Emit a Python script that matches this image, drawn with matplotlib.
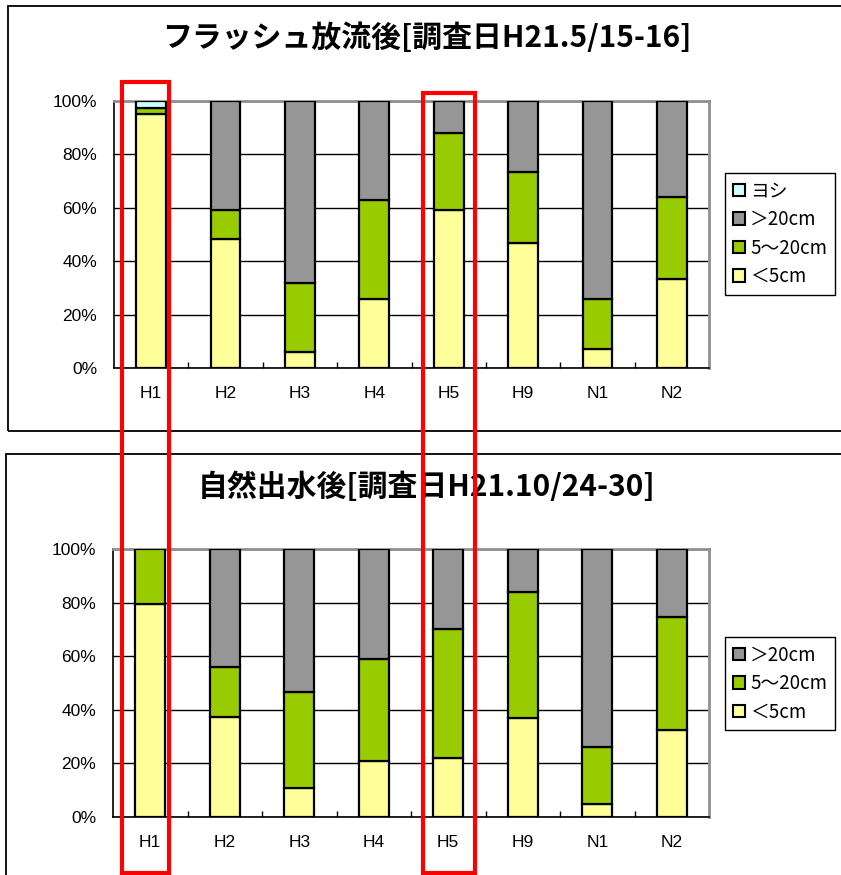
import matplotlib
matplotlib.use("Agg")
import matplotlib.pyplot as plt
import matplotlib.transforms as mtransforms
from matplotlib.patches import Rectangle, Patch
import numpy as np

plt.rcParams['font.family'] = ['Noto Sans CJK JP', 'DejaVu Sans']

# Data
sites = ['H1', 'H2', 'H3', 'H4', 'H5', 'H9', 'N1', 'N2']

flush_lt5 = [95, 48.5, 6, 26, 59, 47, 7, 33.5]
flush_5_20 = [2.5, 10.5, 26, 37, 29, 26.5, 19, 30.5]
flush_gt20 = [0, 41, 68, 37, 12, 26.5, 74, 36]
flush_yoshi = [2.5, 0, 0, 0, 0, 0, 0, 0]

natural_lt5 = [79.5, 37.5, 11, 21, 22, 37, 5, 32.5]
natural_5_20 = [20.5, 18.5, 35.5, 38, 48, 47, 21, 42]
natural_gt20 = [0, 44, 53.5, 41, 30, 16, 74, 25.5]

title_top = 'フラッシュ放流後[調査日H21.5/15-16]'
title_bottom = '自然出水後[調査日H21.10/24-30]'

highlight_sites = ['H1', 'H5']

# Colours
c_lt5 = '#FFFF99'
c_5_20 = '#99CC00'
c_gt20 = '#969696'
c_yoshi = '#CCFFFF'

W, H = 841, 875
fig = plt.figure(figsize=(W / 100, H / 100), dpi=100)
tick_font = ['Liberation Sans', 'DejaVu Sans']


def px_axes(left, right, top, bottom):
    return fig.add_axes([left / W, 1 - bottom / H, (right - left) / W, (bottom - top) / H])


def draw_stack(ax, layers):
    ind = np.arange(len(sites))
    bottom = np.zeros(len(sites))
    for vals, color in layers:
        vals = np.array(vals, dtype=float)
        mask = vals > 0
        ax.bar(ind[mask], vals[mask], 0.40, bottom=bottom[mask], color=color,
               edgecolor='black', linewidth=1.6, zorder=3)
        bottom += vals
    ax.set_xlim(-0.5, len(sites) - 0.5)
    ax.set_ylim(0, 100)
    ax.set_yticks(np.arange(0, 101, 20))
    ax.set_yticklabels([f'{v}%' for v in range(0, 101, 20)], family=tick_font, fontsize=12.5)
    ax.set_xticks(ind)
    ax.set_xticklabels(sites, family=tick_font, fontsize=12.5)
    ax.set_xticks(ind[:-1] + 0.5, minor=True)
    ax.tick_params(axis='x', which='major', length=0, pad=13)
    ax.tick_params(axis='x', which='minor', direction='in', length=4, width=1)
    ax.tick_params(axis='y', length=0, pad=12)
    ax.grid(axis='y', color='black', linewidth=1, zorder=1)
    ax.set_axisbelow(True)
    for s in ['left', 'bottom']:
        ax.spines[s].set_color('black')
        ax.spines[s].set_linewidth(1.2)
    for s in ['top', 'right']:
        ax.spines[s].set_color('#909090')
        ax.spines[s].set_linewidth(2)


def add_legend(handles, labels, top_px):
    leg = fig.legend(handles, labels, loc='upper left',
                     bbox_to_anchor=(725 / W, 1 - top_px / H),
                     prop={'family': ['Noto Sans CJK JP', 'DejaVu Sans'], 'size': 13.5},
                     handlelength=0.65, handleheight=0.65, handletextpad=0.3,
                     labelspacing=0.4, borderpad=0.4, borderaxespad=0,
                     fancybox=False, edgecolor='black', framealpha=1)
    leg.get_frame().set_linewidth(1.0)
    return leg


# Outer chart frames
fig.add_artist(Rectangle((8 / W, 1 - 431 / H), 1, (431 - 6) / H, transform=fig.transFigure,
                         fill=False, edgecolor='black', linewidth=1.3, clip_on=False))
fig.add_artist(Rectangle((6 / W, -0.1), 1, 0.1 + (H - 454) / H, transform=fig.transFigure,
                         fill=False, edgecolor='black', linewidth=1.3, clip_on=False))

# Top chart
ax1 = px_axes(114, 709, 101, 368)
draw_stack(ax1, [(flush_lt5, c_lt5), (flush_5_20, c_5_20),
                 (flush_gt20, c_gt20), (flush_yoshi, c_yoshi)])
fig.text(427 / W, 1 - 38 / H, title_top, ha='center', va='center',
         fontsize=21.5, fontweight='bold')

handles1 = [Patch(facecolor=c_yoshi, edgecolor='black', linewidth=1.5),
            Patch(facecolor=c_gt20, edgecolor='black', linewidth=1.5),
            Patch(facecolor=c_5_20, edgecolor='black', linewidth=1.5),
            Patch(facecolor=c_lt5, edgecolor='black', linewidth=1.5)]
add_legend(handles1, ['ヨシ', '＞20cm', '5～20cm', '＜5cm'], 173)

# Bottom chart
ax2 = px_axes(113, 709, 549, 817)
draw_stack(ax2, [(natural_lt5, c_lt5), (natural_5_20, c_5_20), (natural_gt20, c_gt20)])
fig.text(427 / W, 1 - 487 / H, title_bottom, ha='center', va='center',
         fontsize=21.5, fontweight='bold')

add_legend(handles1[1:], ['＞20cm', '5～20cm', '＜5cm'], 637)

# Red highlight boxes spanning both charts
trans = mtransforms.blended_transform_factory(ax1.transData, fig.transFigure)
for site, (lo, hi), top in zip(highlight_sites, [(-0.39, 0.24), (-0.35, 0.35)], [82, 93]):
    i = sites.index(site)
    fig.add_artist(Rectangle((i + lo, 2 / H), hi - lo, (H - top - 2) / H, transform=trans,
                             fill=False, edgecolor='red', linewidth=3, zorder=10,
                             clip_on=False))

plt.savefig('out.png', dpi=100)
